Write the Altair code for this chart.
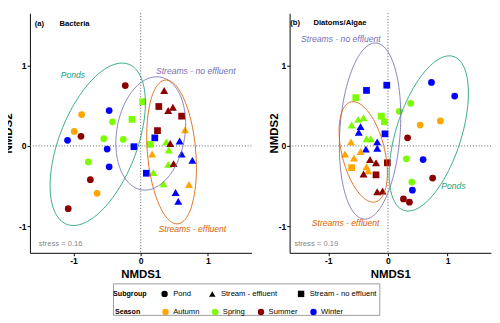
import altair as alt
import numpy as np
import pandas as pd

FONT = "Liberation Sans"

# ---------------- categories / styles ----------------
seasons = ["Autumn", "Spring", "Summer", "Winter"]
season_colors = ["#FFA500", "#7CFC00", "#8B0000", "#0000FF"]
subgroups = ["Pond", "Stream  - effluent", "Stream - no effluent"]
subgroup_shapes = ["circle", "triangle-up", "square"]
ell_groups = ["Ponds", "Streams - no effluent", "Streams - effluent"]
ell_colors = ["#1B9E77", "#7570B3", "#D95F02"]

# ---------------- panel (a) Bacteria ----------------
a_pond_x = [-0.23, -0.88, -0.47, -0.42, -0.99, -0.89, -1.09, -0.55, -0.26, -0.50, -0.78, -0.47, -0.75, -0.65, -1.08]
a_pond_y = [0.75, 0.39, 0.44, 0.30, 0.18, 0.12, 0.07, 0.09, 0.08, -0.04, -0.20, -0.26, -0.42, -0.59, -0.78]
a_pond_s = ["Summer", "Autumn", "Winter", "Spring", "Autumn", "Summer", "Winter", "Spring", "Spring", "Winter",
            "Spring", "Winter", "Summer", "Autumn", "Summer"]

a_noeff_x = [0.03, -0.13, 0.27, 0.61, 0.25, 0.21, -0.10, 0.14, 0.085]
a_noeff_y = [0.55, 0.33, 0.49, 0.37, 0.19, 0.10, -0.01, 0.02, -0.34]
a_noeff_s = ["Spring", "Spring", "Summer", "Summer", "Summer", "Winter", "Winter", "Spring", "Winter"]

a_eff_x = [0.35, 0.41, 0.48, 0.66, 0.38, 0.44, 0.58, 0.42, 0.17, 0.61, 0.77, 0.41, 0.49, 0.19, 0.34, 0.72, 0.52, 0.56]
a_eff_y = [0.69, 0.44, 0.48, 0.20, 0.05, 0.03, 0.06, -0.05, -0.10, -0.10, -0.18, -0.23, -0.22, -0.33, -0.47, -0.48, -0.58, -0.69]
a_eff_s = ["Summer", "Summer", "Summer", "Autumn", "Spring", "Summer", "Winter", "Spring", "Autumn", "Winter",
           "Winter", "Spring", "Summer", "Spring", "Spring", "Autumn", "Winter", "Winter"]

# ellipse parameters: centre, half-width, half-height, correlation
a_ell_cx = [-0.64, 0.15, 0.46]
a_ell_cy = [0.02, 0.155, -0.075]
a_ell_hw = [0.71, 0.52, 0.37]
a_ell_hh = [1.01, 0.705, 0.895]
a_ell_r = [0.51, 0.17, -0.22]

a_lab_x = [-1.01, 0.82, 0.77]
a_lab_y = [0.88, 0.935, -1.03]

# ---------------- panel (b) Diatoms/Algae ----------------
b_pond_x = [0.73, 1.12, 0.38, 0.19, 0.54, 0.88, 0.33, 0.31, 0.59, 0.75, 0.40, 0.41, 0.26, 0.36]
b_pond_y = [0.79, 0.62, 0.53, 0.43, 0.26, 0.31, 0.10, -0.16, -0.17, -0.40, -0.45, -0.55, -0.66, -0.70]
b_pond_s = ["Winter", "Winter", "Spring", "Spring", "Autumn", "Autumn", "Summer", "Spring", "Winter", "Summer",
            "Spring", "Winter", "Summer", "Summer"]

b_noeff_x = [-0.02, -0.36, -0.54, -0.11, -0.06, -0.05, -0.01, -0.61, -0.20]
b_noeff_y = [0.755, 0.69, 0.60, 0.37, 0.30, 0.15, -0.21, -0.27, -0.36]
b_noeff_s = ["Winter", "Winter", "Spring", "Spring", "Spring", "Winter", "Summer", "Autumn", "Summer"]

b_eff_x = [-0.61, -0.50, -0.41, -0.46, -0.49, -0.36, -0.29, -0.18, -0.62, -0.37, -0.18,
           -0.72, -0.57, -0.46, -0.30, -0.20, -0.36, -0.33, -0.41, -0.18, -0.09]
b_eff_y = [0.26, 0.33, 0.35, 0.24, 0.17, 0.09, 0.09, 0.05, 0.05, -0.04, -0.03,
           -0.10, -0.15, -0.07, -0.17, -0.21, -0.26, -0.31, -0.35, -0.57, -0.56]
b_eff_s = ["Spring", "Spring", "Spring", "Winter", "Winter", "Spring", "Spring", "Winter", "Autumn", "Winter", "Winter",
           "Autumn", "Autumn", "Autumn", "Summer", "Summer", "Autumn", "Autumn", "Summer", "Summer", "Summer"]

b_ell_cx = [0.685, -0.30, -0.415]
b_ell_cy = [0.155, 0.185, -0.075]
b_ell_hw = [0.665, 0.515, 0.405]
b_ell_hh = [0.965, 1.095, 0.625]
b_ell_r = [0.52, 0.17, -0.42]

b_lab_x = [1.10, -0.79, -0.71]
b_lab_y = [-0.50, 1.33, -0.96]

Y_DOMAIN = [-1.33, 1.65]


def points_df(px, py, ps, grp):
    return pd.DataFrame({"x": px, "y": py, "season": ps, "subgroup": grp})


def ellipse_df(cx, cy, hw, hh, rho):
    rows = []
    t = np.linspace(0, 2 * np.pi, 145)
    for g, x0, y0, a, b, r in zip(ell_groups, cx, cy, hw, hh, rho):
        phi = np.arccos(r)
        for i, tt in enumerate(t):
            rows.append({"group": g, "i": i,
                         "x": x0 + a * np.cos(tt),
                         "y": y0 + b * np.cos(tt - phi)})
    return pd.DataFrame(rows)


COLOR_LEGEND = alt.Legend(title="Season", orient="none", legendX=89, legendY=309,
                          direction="horizontal", titleOrient="left",
                          symbolType="circle", symbolSize=45, symbolStrokeWidth=0,
                          labelFontSize=8, labelColor="black", labelOffset=4,
                          titleFontSize=7.5, titleFontWeight="bold", titleColor="black",
                          titlePadding=22, columnPadding=12, padding=0)
SHAPE_LEGEND = alt.Legend(title="Subgroup", orient="none", legendX=87, legendY=290,
                          direction="horizontal", titleOrient="left",
                          symbolSize=45, symbolStrokeWidth=0,
                          symbolFillColor="black", symbolStrokeColor="black",
                          labelFontSize=8, labelColor="black", labelOffset=5,
                          titleFontSize=7.5, titleFontWeight="bold", titleColor="black",
                          titlePadding=14, columnPadding=18, padding=0)


def panel(pts, ell, lab_x, lab_y, xdom, width, ytitle_x, tag, tag_x, name, name_x, title_y, stress, stress_x):
    xs = alt.Scale(domain=xdom, nice=False, zero=False)
    ys = alt.Scale(domain=Y_DOMAIN, nice=False, zero=False)
    xax = alt.Axis(values=[-1, 0, 1], title="NMDS1", labelExpr="'' + datum.value")
    yax = alt.Axis(values=[-1, 0, 1], title="NMDS2", labelExpr="'' + datum.value",
                   titleX=ytitle_x, titleBaseline="alphabetic")
    X = alt.X("x:Q", scale=xs, axis=xax)
    Y = alt.Y("y:Q", scale=ys, axis=yax)

    zero_v = alt.Chart(pd.DataFrame({"x": [0.0]})).mark_rule(
        strokeDash=[1, 2], color="#555", strokeWidth=1).encode(x=X)
    zero_h = alt.Chart(pd.DataFrame({"y": [0.0]})).mark_rule(
        strokeDash=[1, 2], color="#555", strokeWidth=1).encode(y=Y)

    enc = dict(
        x=X, y=Y,
        color=alt.Color("season:N", scale=alt.Scale(domain=seasons, range=season_colors), legend=COLOR_LEGEND),
        shape=alt.Shape("subgroup:N", scale=alt.Scale(domain=subgroups, range=subgroup_shapes), legend=SHAPE_LEGEND),
    )
    base = alt.Chart(pts)
    other_layer = base.transform_filter(alt.datum.subgroup != subgroups[1]).mark_point(
        filled=True, opacity=1, size=50).encode(**enc)
    tri_layer = base.transform_filter(alt.datum.subgroup == subgroups[1]).mark_point(
        filled=True, opacity=1, size=70).encode(**enc)

    ell_layer = alt.Chart(ell).mark_line(strokeWidth=0.9).encode(
        x=X, y=Y,
        stroke=alt.Stroke("group:N", scale=alt.Scale(domain=ell_groups, range=ell_colors), legend=None),
        detail="group:N",
        order="i:Q",
    )

    labels = pd.DataFrame({"x": lab_x, "y": lab_y, "text": ell_groups, "col": ell_colors})
    lab_layer = alt.Chart(labels).mark_text(fontSize=9, fontStyle="italic", font=FONT).encode(
        x=X, y=Y, text="text:N", fill=alt.Fill("col:N", scale=None))

    titles = pd.DataFrame({"x": [tag_x, name_x], "y": [title_y, title_y], "text": [tag, name]})
    title_layer = alt.Chart(titles).mark_text(fontSize=8, fontWeight="bold", align="left",
                                              color="black", font=FONT).encode(x=X, y=Y, text="text:N")

    st = pd.DataFrame({"x": [stress_x], "y": [-1.22], "text": [stress]})
    stress_layer = alt.Chart(st).mark_text(fontSize=8, align="left", color="#888", font=FONT).encode(
        x=X, y=Y, text="text:N")

    return alt.layer(zero_v, zero_h, other_layer, tri_layer, ell_layer, lab_layer, title_layer,
                     stress_layer).properties(width=width, height=251)


pts_a = pd.concat([points_df(a_pond_x, a_pond_y, a_pond_s, subgroups[0]),
                   points_df(a_eff_x, a_eff_y, a_eff_s, subgroups[1]),
                   points_df(a_noeff_x, a_noeff_y, a_noeff_s, subgroups[2])], ignore_index=True)
pts_b = pd.concat([points_df(b_pond_x, b_pond_y, b_pond_s, subgroups[0]),
                   points_df(b_eff_x, b_eff_y, b_eff_s, subgroups[1]),
                   points_df(b_noeff_x, b_noeff_y, b_noeff_s, subgroups[2])], ignore_index=True)

pa = panel(pts_a, ellipse_df(a_ell_cx, a_ell_cy, a_ell_hw, a_ell_hh, a_ell_r), a_lab_x, a_lab_y,
           [-1.65, 1.65], 232, -19.5, "(a)", -1.58, "Bacteria", -1.21, 1.518, "stress = 0.16", -1.52)
pb = panel(pts_b, ellipse_df(b_ell_cx, b_ell_cy, b_ell_hw, b_ell_hh, b_ell_r), b_lab_x, b_lab_y,
           [-1.65, 1.73], 211, -13, "(b)", -1.64, "Diatoms/Algae", -1.25, 1.53, "stress = 0.19", -1.57)

spacer = alt.Chart(pd.DataFrame({"v": [0.0]})).mark_point(opacity=0).encode(
    x=alt.X("v:Q", axis=None), y=alt.Y("v:Q", axis=None)
).properties(width=86, height=33)

box = alt.Chart(pd.DataFrame({"v": [0.0]})).mark_point(opacity=0).encode(
    x=alt.X("v:Q", axis=None), y=alt.Y("v:Q", axis=None)
).properties(width=279, height=33, view=alt.ViewBackground(stroke="#999", strokeWidth=1))

chart = alt.vconcat(
    alt.hconcat(pa, pb, spacing=16),
    alt.hconcat(spacer, box, spacing=0),
    spacing=3,
).properties(
    padding={"left": -7, "top": -3, "right": 0, "bottom": 0}
).configure(font=FONT).configure_view(stroke=None).configure_axis(
    domainColor="black", domainWidth=1, tickColor="black", tickSize=3, grid=False,
    labelFontSize=9, labelFontWeight="bold", labelColor="black", labelPadding=1,
    titleFontSize=12, titleFontWeight="bold", titleColor="black", titlePadding=1,
).configure_axisX(titlePadding=4)

chart.save("out.html", embed_options={"renderer": "svg", "actions": False})
